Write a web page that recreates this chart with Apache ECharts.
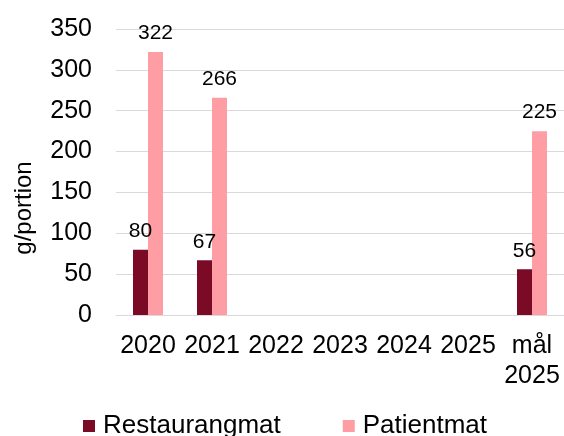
<!DOCTYPE html>
<html>
<head>
<meta charset="utf-8">
<script src="https://cdn.jsdelivr.net/npm/echarts@6/dist/echarts.min.js"></script>
<style>
  html, body { margin: 0; padding: 0; background: #fff; }
  #chart { width: 564px; height: 436px; }
</style>
</head>
<body>
<div id="chart"></div>
<script>
// Data
const categories = ['2020', '2021', '2022', '2023', '2024', '2025', 'mål\n2025'];
const restaurangmat = [80, 67, null, null, null, null, 56];
const patientmat = [322, 266, null, null, null, null, 225];
const yTicks = { min: 0, max: 350, interval: 50 };

const FONT = '"Liberation Sans", Arial, sans-serif';
const colors = { restaurang: '#7A0A25', patient: '#FF9DA4' };

const chart = echarts.init(document.getElementById('chart'));

const labelStyle = {
  show: true,
  position: 'top',
  distance: 8,
  color: '#000',
  fontSize: 21,
  fontFamily: FONT,
};

chart.setOption({
  animation: false,
  textStyle: { fontFamily: FONT },
  grid: { left: 116, top: 29, width: 449, height: 286 },
  legend: {
    top: 413,
    left: 83,
    padding: 0,
    itemWidth: 12,
    itemHeight: 12,
    itemGap: 62,
    icon: 'rect',
    textStyle: { fontSize: 26, color: '#000', fontFamily: FONT, padding: [0, 0, 0, 3] },
    data: ['Restaurangmat', 'Patientmat'],
  },
  xAxis: {
    type: 'category',
    data: categories,
    axisLine: { lineStyle: { color: '#D9D9D9' } },
    axisTick: { show: false },
    axisLabel: {
      color: '#000',
      fontSize: 25,
      lineHeight: 30,
      margin: 16,
      interval: 0,
      fontFamily: FONT,
    },
  },
  yAxis: {
    type: 'value',
    min: yTicks.min,
    max: yTicks.max,
    interval: yTicks.interval,
    name: 'g/portion',
    nameLocation: 'middle',
    nameRotate: 90,
    nameGap: 80,
    nameTextStyle: { color: '#000', fontSize: 24, fontFamily: FONT, padding: [0, 72, 0, 0] },
    axisLine: { show: false },
    axisTick: { show: false },
    splitLine: { lineStyle: { color: '#D9D9D9' } },
    axisLabel: { color: '#000', fontSize: 25, margin: 24, fontFamily: FONT },
  },
  series: [
    {
      name: 'Restaurangmat',
      type: 'bar',
      data: restaurangmat,
      barWidth: 15,
      barGap: '0%',
      itemStyle: { color: colors.restaurang },
      label: labelStyle,
    },
    {
      name: 'Patientmat',
      type: 'bar',
      data: patientmat,
      barWidth: 15,
      barGap: '0%',
      itemStyle: { color: colors.patient },
      label: labelStyle,
    },
  ],
});
</script>
</body>
</html>
